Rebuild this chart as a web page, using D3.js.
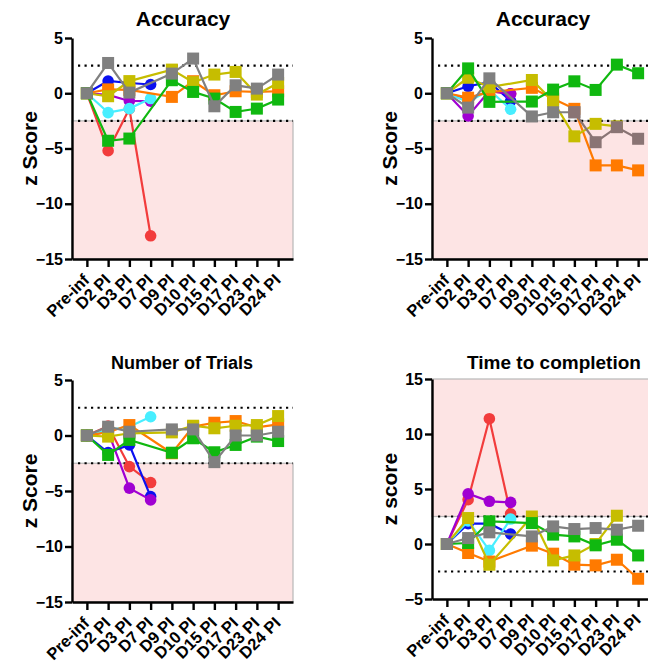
<!DOCTYPE html>
<html><head><meta charset="utf-8">
<script src="https://cdn.jsdelivr.net/npm/d3@7/dist/d3.min.js"></script>
<style>
html,body{margin:0;padding:0;background:#fff;}
svg text{font-family:"Liberation Sans",Arial,sans-serif;font-weight:bold;fill:#000;}
</style></head>
<body><svg id="chart" width="648" height="667"></svg>
<script>
const categories = ["Pre-inf","D2 PI","D3 PI","D7 PI","D9 PI","D10 PI","D15 PI","D17 PI","D23 PI","D24 PI"];
const yTicksZ = [5,0,-5,-10,-15];
const yTicksTime = [15,10,5,0,-5];
const titles = ["Accuracy","Accuracy","Number of Trials","Time to completion"];
const yLabels = ["z Score","z Score","z Score","z score"];

// Panel 1: Accuracy (left)
const red1    = [0,-5.2,-1.4,-12.9,null,null,null,null,null,null];
const blue1   = [0,1.11,0.93,0.79,null,null,null,null,null,null];
const purple1 = [0,-0.15,-0.7,-0.72,null,null,null,null,null,null];
const cyan1   = [0,-1.75,-1.39,-0.48,null,null,null,null,null,null];
const orange1 = [0,0.35,0.3,null,-0.33,1.09,-0.18,0.18,0.12,0.18];
const yellow1 = [0,-0.27,1.1,null,2.14,1.0,1.69,1.93,-0.12,0.93];
const green1  = [0,-4.3,-4.1,null,1.18,0.12,-0.48,-1.69,-1.39,-0.57];
const grey1   = [0,2.74,0.06,null,1.78,3.14,-1.18,0.72,0.42,1.69];

// Panel 2: Accuracy (right)
const red2    = [0,-0.5,0.2,-0.05,null,null,null,null,null,null];
const blue2   = [0,0.63,1.0,-0.7,null,null,null,null,null,null];
const purple2 = [0,-2.05,0.2,-0.05,null,null,null,null,null,null];
const cyan2   = [0,-0.8,0.3,-1.45,null,null,null,null,null,null];
const orange2 = [0,-0.4,0.1,null,0.49,-0.5,-1.41,-6.53,-6.53,-6.98];
const yellow2 = [0,1.4,0.55,null,1.2,-0.72,-3.9,-2.77,-3.0,null];
const green2  = [0,2.25,-0.78,null,-0.75,0.33,1.08,0.3,2.59,1.81];
const grey2   = [0,-1.3,1.35,null,-2.1,-1.72,-1.72,null,null,null];
const brown2  = [null,null,null,null,null,null,-1.72,-4.43,-3.07,-4.12];

// Panel 3: Number of Trials
const red3    = [0,0.85,-2.8,-4.24,null,null,null,null,null,null];
const blue3   = [0,-1.54,-0.85,-5.5,null,null,null,null,null,null];
const purple3 = [0,0.34,-4.74,-5.8,null,null,null,null,null,null];
const cyan3   = [0,0.5,0.79,1.69,null,null,null,null,null,null];
const orange3 = [0,0.3,0.94,null,-1.6,0.8,1.15,1.3,0.73,1.0];
const yellow3 = [0,-0.1,0.2,null,0.28,0.88,0.65,0.88,0.94,1.75];
const green3  = [0,-1.75,-0.4,null,-1.55,-0.25,-1.51,-0.85,-0.1,-0.5];
const grey3   = [0,0.79,0.34,null,0.55,0.55,-2.4,0,0,0.34];

// Panel 4: Time to completion
const red4    = [0,4.03,11.39,2.75,null,null,null,null,null,null];
const blue4   = [0,1.85,1.85,0.91,null,null,null,null,null,null];
const purple4 = [0,4.57,3.88,3.78,null,null,null,null,null,null];
const cyan4   = [0,2.1,-0.58,2.27,null,null,null,null,null,null];
const orange4 = [0,-0.82,-1.6,null,-0.15,-0.88,-1.88,-1.94,-1.43,-3.16];
const yellow4 = [0,2.36,-1.88,null,2.5,-1.49,-1.04,0.0,2.57,null];
const green4  = [0,0.09,2.06,null,1.9,0.85,0.69,-0.12,0.39,-1.04];
const grey4   = [0,0.54,1.06,null,0.69,1.6,1.36,1.45,1.3,1.66];

const colors = {red:"#f23c3c",blue:"#0a10f0",purple:"#a000d2",cyan:"#48eeff",
  orange:"#ff7a00",yellow:"#c6bd00",green:"#10b810",grey:"#808080",brown:"#8a7474"};

function seriesList(r,b,p,c,o,y,g,gr,br){
  const s=[
    {name:"red",shape:"circle",v:r},{name:"blue",shape:"circle",v:b},
    {name:"purple",shape:"circle",v:p},{name:"cyan",shape:"circle",v:c},
    {name:"orange",shape:"square",v:o},{name:"yellow",shape:"square",v:y},
    {name:"green",shape:"square",v:g},{name:"grey",shape:"square",v:gr}];
  if(br) s.push({name:"brown",shape:"square",v:br});
  return s;
}

const panels = [
  {x0:72, yTop:38, yBot:259, dom:[-15,5], ticks:yTicksZ, band:[-15,-2.5], title:titles[0], tx:183, ty:26, tfs:21, ylab:yLabels[0],
   series:seriesList(red1,blue1,purple1,cyan1,orange1,yellow1,green1,grey1)},
  {x0:432, yTop:38, yBot:259, dom:[-15,5], ticks:yTicksZ, band:[-15,-2.5], title:titles[1], tx:543, ty:26, tfs:21, ylab:yLabels[1],
   series:seriesList(red2,blue2,purple2,cyan2,orange2,yellow2,green2,grey2,brown2)},
  {x0:72, yTop:380, yBot:602, dom:[-15,5], ticks:yTicksZ, band:[-15,-2.5], title:titles[2], tx:182, ty:369, tfs:18, ylab:yLabels[2],
   series:seriesList(red3,blue3,purple3,cyan3,orange3,yellow3,green3,grey3)},
  {x0:432, yTop:379, yBot:599, dom:[-5,15], ticks:yTicksTime, band:[2.5,15], title:titles[3], tx:554, ty:369, tfs:19, ylab:yLabels[3],
   series:seriesList(red4,blue4,purple4,cyan4,orange4,yellow4,green4,grey4)}
];

const svg = d3.select("#chart");
const W = 221;

panels.forEach(P=>{
  const g = svg.append("g");
  const x = d3.scalePoint().domain(categories).range([P.x0, P.x0+W]).padding(0.7);
  const y = d3.scaleLinear().domain(P.dom).range([P.yBot, P.yTop]);

  g.append("rect")
    .attr("x", P.x0).attr("width", W)
    .attr("y", y(P.band[1])).attr("height", y(P.band[0]) - y(P.band[1]))
    .attr("fill", "#fde4e4").attr("stroke", "#b8b8b8").attr("stroke-width", 1.2);

  [2.5,-2.5].forEach(v=>{
    g.append("line").attr("x1", P.x0+6).attr("x2", P.x0+W)
      .attr("y1", y(v)).attr("y2", y(v))
      .attr("stroke", "#000").attr("stroke-width", 2.2)
      .attr("stroke-dasharray", "2.2 4.3");
  });

  const line = d3.line().x(d=>x(d.c)).y(d=>y(d.v));
  P.series.forEach(s=>{
    const pts = categories.map((c,i)=>({c, v:s.v[i]})).filter(d=>d.v!==null);
    const col = colors[s.name];
    g.append("path").attr("d", line(pts)).attr("fill","none")
      .attr("stroke", col).attr("stroke-width", 2.2);
    if(s.shape==="circle"){
      g.selectAll(null).data(pts).enter().append("circle")
        .attr("cx", d=>x(d.c)).attr("cy", d=>y(d.v)).attr("r", 5.8).attr("fill", col);
    } else {
      g.selectAll(null).data(pts).enter().append("rect")
        .attr("x", d=>x(d.c)-6).attr("y", d=>y(d.v)-6)
        .attr("width", 12).attr("height", 12).attr("fill", col);
    }
  });

  const ya = g.append("g").attr("transform", `translate(${P.x0},0)`)
    .call(d3.axisLeft(y).tickValues(P.ticks).tickSize(7).tickSizeOuter(0).tickPadding(2));
  ya.select(".domain").attr("stroke","#000").attr("stroke-width",2.4);
  ya.selectAll(".tick line").attr("stroke","#000").attr("stroke-width",2.4);
  ya.selectAll(".tick text").style("font-size","16px").style("font-family","'Liberation Sans',Arial,sans-serif").style("font-weight","bold");

  const xa = g.append("g").attr("transform", `translate(0,${P.yBot})`)
    .call(d3.axisBottom(x).tickSize(8).tickSizeOuter(0));
  xa.select(".domain").attr("stroke","#000").attr("stroke-width",2.4);
  xa.selectAll(".tick line").attr("stroke","#000").attr("stroke-width",2.4);
  xa.selectAll(".tick text")
    .attr("x",0).attr("y",0).attr("dy","0")
    .attr("text-anchor","end")
    .attr("transform","translate(3,22) rotate(-45)")
    .style("font-size","16.5px").style("font-family","'Liberation Sans',Arial,sans-serif").style("font-weight","bold");

  g.append("text").attr("x", P.tx).attr("y", P.ty).attr("text-anchor","middle")
    .style("font-size", P.tfs+"px").text(P.title);

  const cy = (P.yTop+P.yBot)/2;
  g.append("text").attr("transform", `translate(${P.x0-35},${cy}) rotate(-90)`)
    .attr("text-anchor","middle").style("font-size","21px").text(P.ylab);
});
</script></body></html>
